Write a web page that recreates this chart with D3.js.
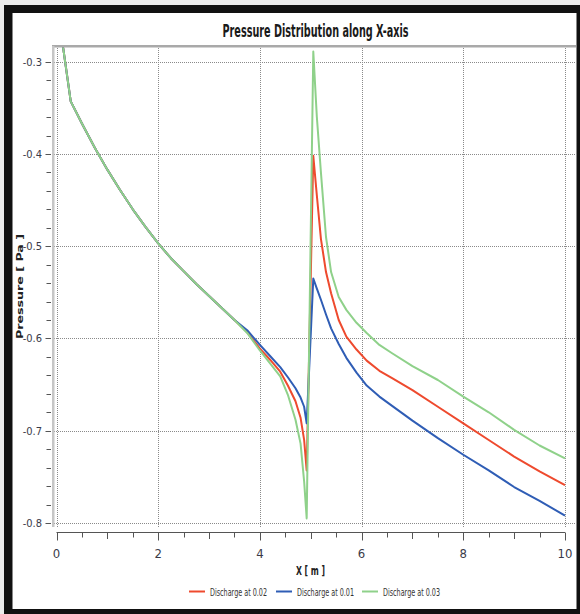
<!DOCTYPE html>
<html>
<head>
<meta charset="utf-8">
<script src="https://cdn.jsdelivr.net/npm/d3@7"></script>
<style>
  html, body { margin: 0; padding: 0; background: #ececec; }
  svg { display: block; }
  .narrow { font-family: 'Liberation Sans Narrow', 'DejaVu Sans Condensed', 'Liberation Sans', sans-serif; font-stretch: condensed; }
</style>
</head>
<body>
<div id="chart"></div>
<script>
const xValues = [0, 0.28, 0.5, 0.75, 1.0, 1.25, 1.5, 1.75, 2.0, 2.25, 2.5, 2.75, 3.0, 3.25, 3.5, 3.75,
  4.0, 4.2, 4.4, 4.55, 4.7, 4.8, 4.87, 4.92, 5.05, 5.12, 5.2, 5.3, 5.4, 5.55, 5.7, 5.9, 6.1, 6.35, 6.6,
  7.0, 7.5, 8.0, 8.5, 9.0, 9.5, 10.0];

const pressure002 = [-0.234, -0.343, -0.367, -0.393, -0.417, -0.439, -0.460, -0.479, -0.497, -0.513, -0.527, -0.541, -0.554, -0.567, -0.580, -0.593,
  -0.611, -0.623, -0.636, -0.651, -0.668, -0.686, -0.710, -0.743, -0.402, -0.445, -0.492, -0.528, -0.551, -0.580, -0.598, -0.612, -0.624, -0.635, -0.643,
  -0.656, -0.674, -0.692, -0.710, -0.728, -0.744, -0.759];

const pressure001 = [-0.234, -0.343, -0.367, -0.393, -0.417, -0.439, -0.460, -0.479, -0.497, -0.513, -0.527, -0.541, -0.554, -0.567, -0.580, -0.591,
  -0.607, -0.619, -0.631, -0.642, -0.654, -0.664, -0.674, -0.692, -0.535, -0.546, -0.558, -0.574, -0.589, -0.606, -0.621, -0.637, -0.651, -0.663, -0.673,
  -0.689, -0.708, -0.726, -0.743, -0.761, -0.776, -0.792];

const pressure003 = [-0.234, -0.343, -0.367, -0.393, -0.417, -0.439, -0.460, -0.479, -0.497, -0.513, -0.527, -0.541, -0.554, -0.567, -0.580, -0.594,
  -0.613, -0.627, -0.641, -0.661, -0.688, -0.714, -0.755, -0.795, -0.289, -0.360, -0.420, -0.490, -0.528, -0.555, -0.569, -0.583, -0.594, -0.607, -0.616,
  -0.630, -0.645, -0.663, -0.680, -0.699, -0.716, -0.730];

const seriesNames = ['Discharge at 0.02', 'Discharge at 0.01', 'Discharge at 0.03'];
const seriesColors = ['#ee4a2e', '#2f5db5', '#8fd18a'];
const seriesValues = [pressure002, pressure001, pressure003];

const xTicks = [0, 2, 4, 6, 8, 10];
const yTicks = [-0.3, -0.4, -0.5, -0.6, -0.7, -0.8];

const width = 580;
const height = 614;
const plot = { left: 52, right: 576, top: 46, bottom: 527 };

const x = d3.scaleLinear().domain([0, 10]).range([56.5, 565]);
const y = d3.scaleLinear().domain([-0.3, -0.8]).range([61.7, 523]);

const svg = d3.select('#chart')
  .append('svg')
  .attr('width', width)
  .attr('height', height);

// frame
svg.append('rect').attr('x', 0).attr('y', 0).attr('width', width).attr('height', height).attr('fill', '#ececec');
svg.append('rect').attr('x', 4).attr('y', 5).attr('width', width - 4).attr('height', height - 5).attr('fill', '#111');
svg.append('rect').attr('x', 12.5).attr('y', 13).attr('width', 564).attr('height', 596).attr('fill', '#fff');

svg.append('text')
  .attr('class', 'narrow')
  .attr('x', 315.5)
  .attr('y', 36.5)
  .attr('text-anchor', 'middle')
  .attr('font-size', 17)
  .attr('font-weight', 'bold')
  .attr('fill', '#1a1a1a')
  .attr('textLength', 186)
  .attr('lengthAdjust', 'spacingAndGlyphs')
  .text('Pressure Distribution along X-axis');

// grid
const grid = svg.append('g')
  .attr('stroke', '#8a8a8a')
  .attr('stroke-width', 1)
  .attr('stroke-dasharray', '1,1');
grid.selectAll('.hgrid')
  .data(yTicks)
  .enter()
  .append('line')
  .attr('x1', plot.left + 2)
  .attr('x2', plot.right)
  .attr('y1', d => Math.round(y(d)) + 0.5)
  .attr('y2', d => Math.round(y(d)) + 0.5);
grid.selectAll('.vgrid')
  .data(xTicks)
  .enter()
  .append('line')
  .attr('x1', d => Math.round(x(d)) + 0.5)
  .attr('x2', d => Math.round(x(d)) + 0.5)
  .attr('y1', plot.top)
  .attr('y2', plot.bottom);

// plot borders
svg.append('rect')
  .attr('x', plot.left).attr('y', plot.top - 1)
  .attr('width', plot.right - plot.left).attr('height', 2.5)
  .attr('fill', '#a9a9a9');
svg.append('rect')
  .attr('x', plot.left).attr('y', plot.top)
  .attr('width', 2.5).attr('height', plot.bottom - plot.top)
  .attr('fill', '#c6c6c6');

// y axis ticks
const yMinor = d3.range(0, 26).map(i => -0.3 - i * 0.02);
svg.append('g')
  .selectAll('line')
  .data(yMinor)
  .enter()
  .append('line')
  .attr('x1', (d, i) => (i % 5 === 0 ? 45.5 : 46.5))
  .attr('x2', 51)
  .attr('y1', d => Math.round(y(d)) + 0.5)
  .attr('y2', d => Math.round(y(d)) + 0.5)
  .attr('stroke', '#555');

svg.append('g')
  .selectAll('text')
  .data(yTicks)
  .enter()
  .append('text')
  .attr('class', 'narrow')
  .attr('x', 42)
  .attr('y', d => y(d) + 4)
  .attr('text-anchor', 'end')
  .attr('font-size', 11)
  .attr('fill', '#3a3a48')
  .text(d => d.toFixed(1));

svg.append('text')
  .attr('transform', 'translate(22.5,286.5) rotate(-90)')
  .attr('text-anchor', 'middle')
  .attr('font-family', 'DejaVu Sans, Verdana, sans-serif')
  .attr('font-size', 9.5)
  .attr('font-weight', 'bold')
  .attr('fill', '#222')
  .attr('textLength', 105)
  .attr('lengthAdjust', 'spacingAndGlyphs')
  .text('Pressure [ Pa ]');

// x axis
const xAxisY = 532.5;
svg.append('line')
  .attr('x1', x(0)).attr('x2', x(10))
  .attr('y1', xAxisY).attr('y2', xAxisY)
  .attr('stroke', '#555');
const xMinor = d3.range(0, 21).map(i => i * 0.5);
svg.append('g')
  .selectAll('line')
  .data(xMinor)
  .enter()
  .append('line')
  .attr('x1', d => Math.round(x(d)) + 0.5)
  .attr('x2', d => Math.round(x(d)) + 0.5)
  .attr('y1', xAxisY)
  .attr('y2', (d, i) => xAxisY + (i % 4 === 0 ? 8 : (i % 2 === 0 ? 6.5 : 5)))
  .attr('stroke', '#555');
svg.append('g')
  .selectAll('text')
  .data(xTicks)
  .enter()
  .append('text')
  .attr('class', 'narrow')
  .attr('x', d => x(d))
  .attr('y', 557.5)
  .attr('text-anchor', 'middle')
  .attr('font-size', 13)
  .attr('fill', '#3a3a48')
  .text(d => d);

svg.append('text')
  .attr('class', 'narrow')
  .attr('x', 310.5)
  .attr('y', 574.5)
  .attr('text-anchor', 'middle')
  .attr('font-size', 13)
  .attr('font-weight', 'bold')
  .attr('fill', '#222')
  .attr('textLength', 29)
  .attr('lengthAdjust', 'spacingAndGlyphs')
  .text('X [ m ]');

// curves
svg.append('clipPath')
  .attr('id', 'plot-clip')
  .append('rect')
  .attr('x', plot.left + 2)
  .attr('y', plot.top + 1.5)
  .attr('width', plot.right - plot.left - 2)
  .attr('height', plot.bottom - plot.top);

const line = d3.line()
  .x(d => x(d[0]))
  .y(d => y(d[1]));

svg.append('g')
  .attr('clip-path', 'url(#plot-clip)')
  .selectAll('path')
  .data(seriesValues)
  .enter()
  .append('path')
  .attr('d', vals => line(xValues.map((v, i) => [v, vals[i]])))
  .attr('fill', 'none')
  .attr('stroke', (d, i) => seriesColors[i])
  .attr('stroke-width', 2)
  .attr('stroke-linejoin', 'round');

// legend
const legendX = [189, 276, 362];
const legend = svg.append('g')
  .selectAll('g')
  .data(seriesNames)
  .enter()
  .append('g')
  .attr('transform', (d, i) => `translate(${legendX[i]},591.5)`);
legend.append('line')
  .attr('x1', 0).attr('x2', 16)
  .attr('stroke', (d, i) => seriesColors[i])
  .attr('stroke-width', 2);
legend.append('text')
  .attr('class', 'narrow')
  .attr('x', 21)
  .attr('y', 4)
  .attr('font-size', 11)
  .attr('fill', '#333')
  .attr('textLength', 57)
  .attr('lengthAdjust', 'spacingAndGlyphs')
  .text(d => d);
</script>
</body>
</html>
